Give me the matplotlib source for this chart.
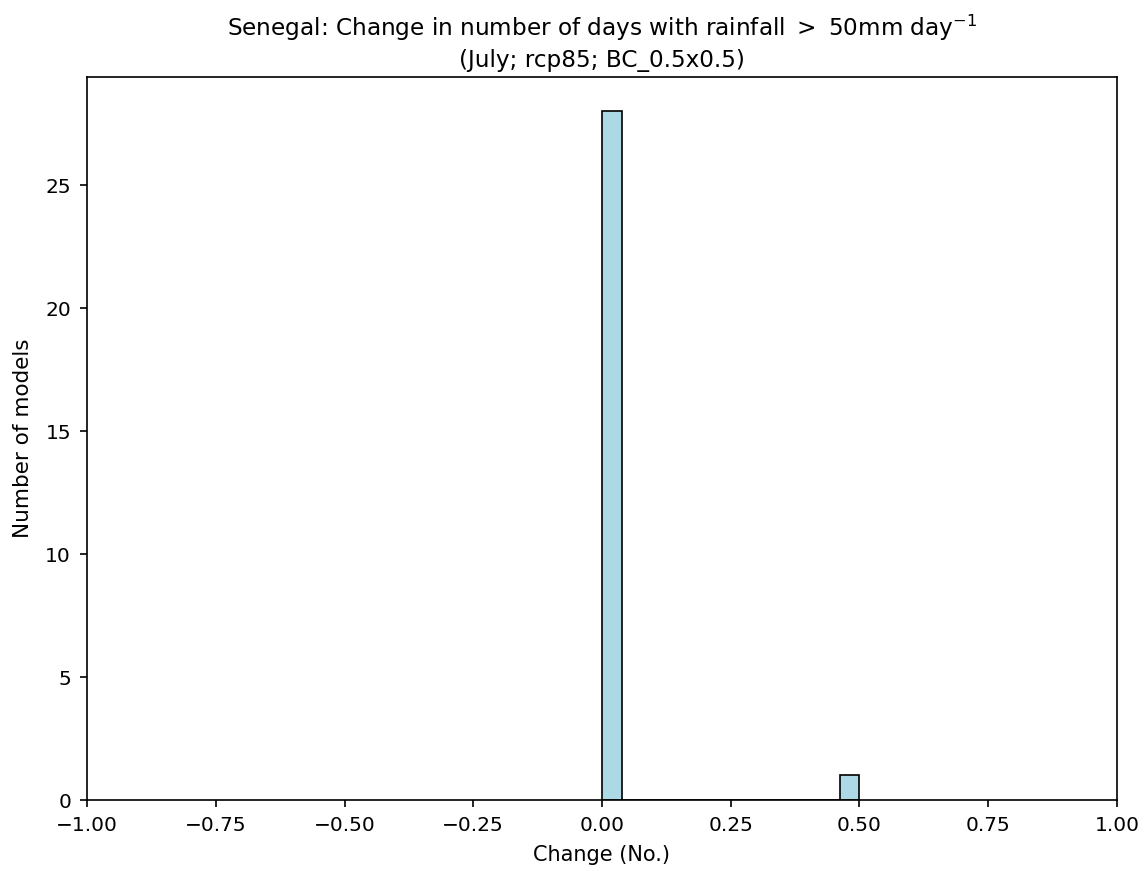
import numpy as np
import matplotlib
matplotlib.use('Agg')
import matplotlib.pyplot as plt

# model changes in number of days (28 models with no change, 1 with +0.5)
change_values = [0.0] * 28 + [0.5]
n_bins = 13

country = 'Senegal'
month = 'July'
scenario = 'rcp85'
dataset = 'BC_0.5x0.5'

fig = plt.figure(figsize=(11.45, 8.71), dpi=100)
ax = fig.add_axes([0.076, 0.0815, 0.8995, 0.8301])

ax.hist(change_values, bins=n_bins, color='lightblue', edgecolor='black', linewidth=1.2)
ax.set_xlim(-1, 1)
ax.set_xticks(np.arange(-1.0, 1.01, 0.25))
ax.tick_params(labelsize=14.5, length=5, width=1.2, pad=6.5)
for spine in ax.spines.values():
    spine.set_linewidth(1.2)
ax.set_xlabel('Change (No.)', fontsize=15, labelpad=7)
ax.set_ylabel('Number of models', fontsize=15.5, labelpad=9)
ax.set_title(f'{country}: Change in number of days with rainfall $>$ 50mm day$^{{-1}}$\n'
             f'({month}; {scenario}; {dataset})', fontsize=16.7, pad=7.5, linespacing=1.3)

fig.savefig('out.png', dpi=100)
